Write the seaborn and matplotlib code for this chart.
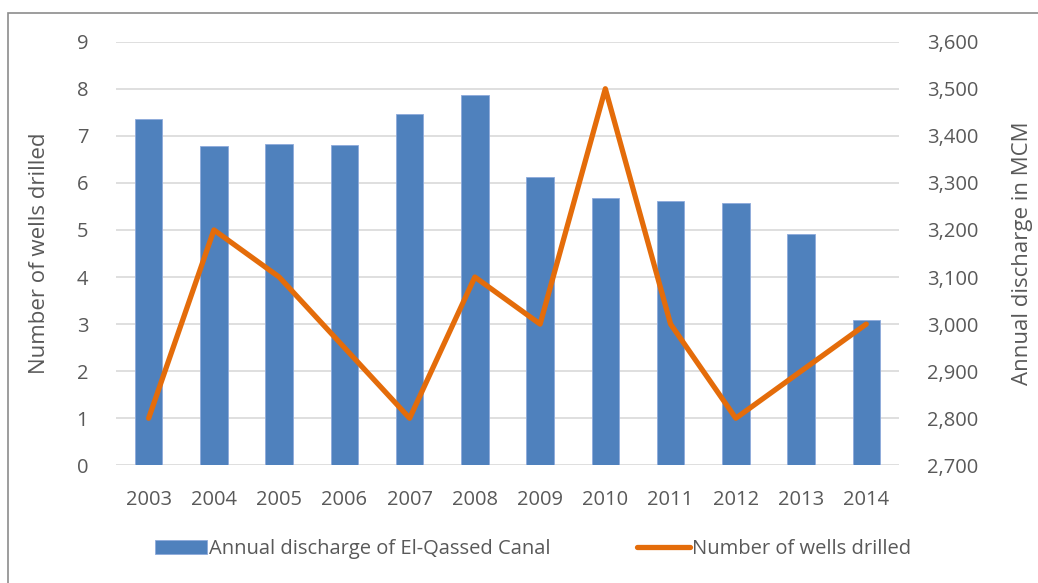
import numpy as np
import pandas as pd
import matplotlib
matplotlib.use("Agg")
import matplotlib.pyplot as plt
from matplotlib.patches import Rectangle
from matplotlib.ticker import FuncFormatter
import seaborn as sns

# values
years = ["2003", "2004", "2005", "2006", "2007", "2008",
         "2009", "2010", "2011", "2012", "2013", "2014"]
discharge = [3436, 3378, 3383, 3380, 3446, 3486,
             3312, 3267, 3261, 3257, 3191, 3009]   # MCM, right axis
wells = [1, 5, 4, 2.5, 1, 4, 3, 8, 3, 1, 2, 3]    # left axis

df = pd.DataFrame({"year": years, "pos": np.arange(len(years)),
                   "discharge": discharge, "wells": wells})

sns.set_theme(style="white")
plt.rcParams["font.family"] = ["Open Sans", "DejaVu Sans"]
grey = "#595959"

fig = plt.figure(figsize=(10.38, 5.83), dpi=100)
ax = fig.add_axes([0.1118, 0.2019, 0.7542, 0.7266])
ax2 = ax.twinx()

# bars on the right axis, behind the line
sns.barplot(data=df, x="year", y="discharge", ax=ax2, color="#4F81BD",
            saturation=1, width=0.42, edgecolor="#8EAADB", linewidth=0.6,
            label="Annual discharge of El-Qassed Canal")
ax2.set_ylim(2700, 3600)
ax2.set_yticks(np.arange(2700, 3601, 100))
ax2.yaxis.set_major_formatter(FuncFormatter(lambda v, p: f"{int(v):,}"))
ax2.grid(axis="y", color="#D9D9D9", linewidth=1.2)
ax2.set_axisbelow(True)
ax2.set_ylabel("Annual discharge in MCM", fontsize=16, color=grey, labelpad=24)

# line on the left axis
sns.lineplot(data=df, x="pos", y="wells", ax=ax, color="#E46C0A",
             linewidth=3.8, label="Number of wells drilled")
ax.lines[0].set_solid_joinstyle("round")
ax.lines[0].set_solid_capstyle("round")
ax.set_ylim(0, 9)
ax.set_yticks(np.arange(0, 10, 1))
ax.set_xlim(-0.5, len(years) - 0.5)
ax.set_xticks(np.arange(len(years)))
ax.set_xticklabels(years)
ax.set_xlabel("")
ax.set_ylabel("Number of wells drilled", fontsize=16, color=grey, labelpad=19)
ax.set_zorder(ax2.get_zorder() + 1)
ax.patch.set_visible(False)
ax2.set_xlabel("")

for a in (ax, ax2):
    for s in a.spines.values():
        s.set_visible(False)
    a.tick_params(axis="both", length=0, labelsize=14.5, labelcolor=grey)
ax.tick_params(axis="y", pad=20)
ax2.tick_params(axis="y", pad=20)
ax.tick_params(axis="x", pad=18)

# legend below the chart
h1, l1 = ax2.get_legend_handles_labels()
h2, l2 = ax.get_legend_handles_labels()
for a in (ax, ax2):
    if a.get_legend() is not None:
        a.get_legend().remove()
leg = fig.legend(h1 + h2, l1 + l2, loc="center", ncol=2,
                 bbox_to_anchor=(533 / 1038, 0.058), frameon=False,
                 fontsize=14.5, handlelength=2.6, handleheight=0.65,
                 handletextpad=0.1, columnspacing=4.3)
for t in leg.get_texts():
    t.set_color(grey)

# chart frame (cut by the image edges on the right and bottom)
fig.patches.append(Rectangle((7.5 / 1038, -0.1), 1.2, 1.1 - 13.5 / 583,
                             transform=fig.transFigure, fill=False,
                             edgecolor="#8C8C8C", linewidth=1.2))

fig.savefig("out.png", dpi=100, facecolor="white")
